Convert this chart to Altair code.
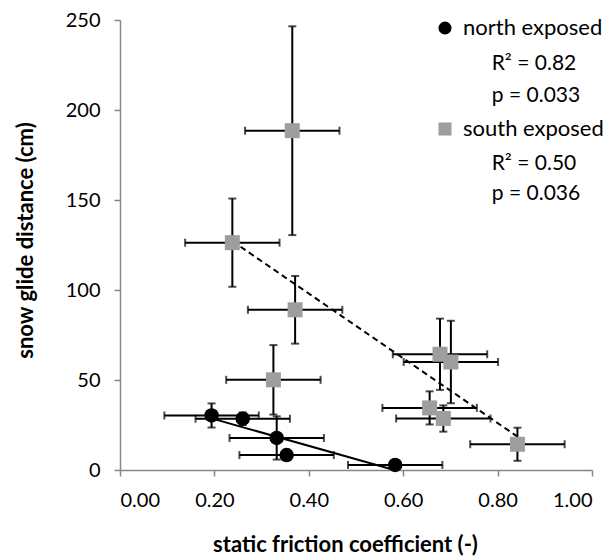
import altair as alt
import pandas as pd

sites = ["north exposed", "south exposed"]

north_x = [0.194, 0.260, 0.332, 0.353, 0.583]
north_y = [30.3, 28.5, 17.8, 8.3, 2.8]
north_xerr = [0.10, 0.10, 0.10, 0.10, 0.10]
north_yerr = [6.7, 3.5, 12.0, 1.5, 1.0]

south_x = [0.365, 0.238, 0.371, 0.325, 0.678, 0.701, 0.656, 0.685, 0.842]
south_y = [188.5, 126.3, 89.0, 50.1, 64.3, 60.0, 34.5, 28.6, 14.3]
south_xerr = [0.10, 0.10, 0.10, 0.10, 0.10, 0.10, 0.10, 0.10, 0.10]
south_yerr = [58.0, 24.5, 18.8, 19.3, 19.8, 22.9, 9.2, 7.3, 9.2]

annot = ["R\u00b2 = 0.82", "p = 0.033", "R\u00b2 = 0.50", "p = 0.036"]

x_ticks = [0.0, 0.2, 0.4, 0.6, 0.8, 1.0]
y_ticks = [0, 50, 100, 150, 200, 250]

FONT = "Lato"

def frame(site, xs, ys, xe, ye):
    d = pd.DataFrame({"x": xs, "y": ys, "xe": xe, "ye": ye})
    d["site"] = site
    d["xlo"] = d.x - d.xe
    d["xhi"] = d.x + d.xe
    d["ylo"] = d.y - d.ye
    d["yhi"] = d.y + d.ye
    return d

dn = frame(sites[0], north_x, north_y, north_xerr, north_yerr)
ds = frame(sites[1], south_x, south_y, south_xerr, south_yerr)
df = pd.concat([dn, ds], ignore_index=True)

xsc = alt.Scale(domain=[0, 1], nice=False)
ysc = alt.Scale(domain=[0, 250], nice=False)

X = alt.X("x:Q", scale=xsc,
          axis=alt.Axis(values=x_ticks, format=".2f", title="static friction coefficient (-)",
                        labelPadding=14,
                        titleX=225, titleY=74, titleBaseline="middle", titleAlign="center"))
Y = alt.Y("y:Q", scale=ysc,
          axis=alt.Axis(values=y_ticks, format="d", title="snow glide distance (cm)",
                        labelPadding=14,
                        titleX=-95, titleY=220, titleBaseline="middle", titleAlign="center"))

base = alt.Chart(df)

hbar = base.mark_rule(color="black", strokeWidth=2).encode(
    x=alt.X("xlo:Q", scale=xsc), x2="xhi:Q", y=alt.Y("y:Q", scale=ysc))
vbar = base.mark_rule(color="black", strokeWidth=2).encode(
    x=alt.X("x:Q", scale=xsc), y=alt.Y("ylo:Q", scale=ysc), y2="yhi:Q")
cap_l = base.mark_tick(orient="vertical", color="black", size=8, thickness=2).encode(
    x=alt.X("xlo:Q", scale=xsc), y=alt.Y("y:Q", scale=ysc))
cap_r = base.mark_tick(orient="vertical", color="black", size=8, thickness=2).encode(
    x=alt.X("xhi:Q", scale=xsc), y=alt.Y("y:Q", scale=ysc))
cap_b = base.mark_tick(orient="horizontal", color="black", size=8, thickness=2).encode(
    x=alt.X("x:Q", scale=xsc), y=alt.Y("ylo:Q", scale=ysc))
cap_t = base.mark_tick(orient="horizontal", color="black", size=8, thickness=2).encode(
    x=alt.X("x:Q", scale=xsc), y=alt.Y("yhi:Q", scale=ysc))

reg_n = alt.Chart(dn).transform_regression("x", "y").mark_line(
    color="black", strokeWidth=2).encode(x=alt.X("x:Q", scale=xsc), y=alt.Y("y:Q", scale=ysc))
reg_s = alt.Chart(ds).transform_regression("x", "y").mark_line(
    color="black", strokeWidth=2, strokeDash=[6, 4]).encode(
    x=alt.X("x:Q", scale=xsc), y=alt.Y("y:Q", scale=ysc))

leg = alt.Legend(title=None, orient="none", legendX=314, legendY=-3, padding=0,
                 labelFont=FONT, labelFontSize=22, labelColor="black", rowPadding=79,
                 labelOffset=7, symbolSize=170, symbolStrokeWidth=0, symbolOpacity=1)

pts = base.mark_point(filled=True, opacity=1).encode(
    x=X, y=Y,
    color=alt.Color("site:N", scale=alt.Scale(domain=sites, range=["#000000", "#9e9e9e"]),
                    legend=leg),
    shape=alt.Shape("site:N", scale=alt.Scale(domain=sites, range=["circle", "square"]),
                    legend=leg),
    size=alt.condition("datum.site == 'north exposed'", alt.value(210), alt.value(225)),
)

text_pos = [(414, 44), (416, 76), (414, 144), (416, 174)]
texts = []
for t, (px, py) in zip(annot, text_pos):
    texts.append(
        alt.Chart(pd.DataFrame({"t": [t]})).mark_text(
            font=FONT, fontSize=21, align="center", baseline="middle", color="black"
        ).encode(x=alt.value(px), y=alt.value(py), text="t:N")
    )

chart = alt.layer(hbar, vbar, cap_l, cap_r, cap_b, cap_t, reg_s, reg_n, pts, *texts).properties(
    width=472, height=450,
    autosize=alt.AutoSizeParams(type="none"),
    padding={"left": 112, "top": 12, "right": 15, "bottom": 86},
).configure_view(stroke=None).configure_axis(
    grid=False, domainColor="#868686", tickColor="#868686", domainWidth=1.5, tickWidth=1.5,
    tickSize=6, labelFont=FONT, labelFontSize=20, labelColor="black",
    titleFont=FONT, titleFontSize=22, titleFontWeight="bold", titleColor="black",
)

chart.save("out.html", embed_options={"renderer": "svg", "actions": False})
